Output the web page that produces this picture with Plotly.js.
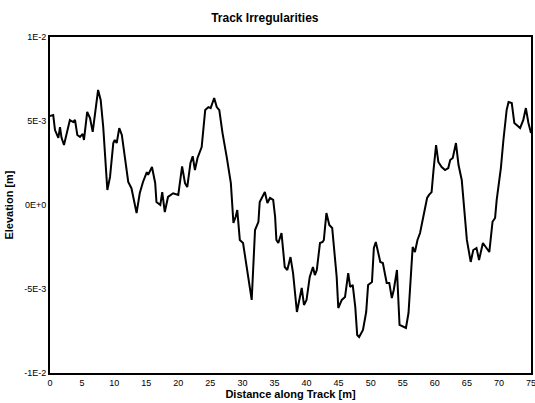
<!DOCTYPE html>
<html>
<head>
<meta charset="utf-8">
<script src="https://cdn.plot.ly/plotly-3.0.1.min.js"></script>
<style>html,body{margin:0;padding:0;background:#fff}#chart{width:535px;height:403px}</style>
</head>
<body>
<div id="chart"></div>
<script>
// Distance along track [m]
const distance = [0,0.5,0.78,1.3,1.56,1.8,2.18,2.6,3.1,3.6,3.9,4.26,4.68,5.1,5.3,5.8,6.24,6.66,7.0,7.5,7.9,8.3,8.94,9.36,9.87,10.1,10.4,10.8,11.2,11.7,12.2,12.7,13.0,13.5,14.0,14.5,15.1,15.3,15.9,16.4,16.6,17.2,17.5,17.9,18.4,19.2,20.0,20.6,21.05,21.4,21.9,22.25,22.6,23.0,23.65,24.2,24.7,25.05,25.6,26.0,26.4,26.9,27.55,28.2,28.6,28.95,29.2,29.6,30.1,30.6,31.0,31.45,31.97,32.5,32.7,33.5,33.9,34.3,34.8,35.1,35.3,35.6,36.1,36.6,37.0,37.5,37.9,38.5,39.25,39.6,40.0,40.5,41.0,41.3,41.6,42.1,42.5,42.7,43.1,43.55,44.0,44.7,44.95,45.5,46.0,46.5,46.8,47.2,47.6,47.9,48.2,48.8,49.3,49.6,50.2,50.5,50.8,51.5,51.9,52.5,52.9,53.3,53.6,54.1,54.5,55.1,55.5,55.9,56.3,56.55,56.9,57.3,57.7,58.2,58.5,58.8,59.1,59.5,59.8,60.2,60.55,61.07,61.6,62.1,62.4,62.8,63.3,63.7,64.2,64.7,65.0,65.6,66.0,66.5,66.9,67.5,68.0,68.5,69.0,69.4,69.65,70.3,70.7,71.2,71.5,72.0,72.4,72.8,73.3,73.8,74.2,74.6,75.0];
// Elevation [1E-3 m]
const elevationMilli = [5.3,5.36,4.46,4.0,4.64,4.0,3.57,4.28,5.06,4.94,5.06,4.17,4.05,4.23,3.87,5.54,5.18,4.35,5.24,6.85,6.25,4.64,0.89,1.67,3.69,3.87,3.69,4.58,4.17,2.86,1.37,1.0,0.42,-0.48,0.71,1.37,1.96,1.79,2.26,1.31,0.18,0.0,0.77,-0.42,0.48,0.7,0.6,2.3,1.3,1.07,2.5,2.9,2.08,2.8,3.45,5.65,5.83,5.77,6.37,5.83,5.65,4.28,2.86,1.3,-1.07,-0.7,-0.3,-2.08,-2.26,-3.57,-4.58,-5.65,-1.49,-1.0,0.18,0.77,0.12,0.42,0.3,-0.7,-2.08,-2.26,-1.67,-3.69,-3.87,-3.1,-4.05,-6.37,-4.94,-5.95,-5.65,-4.28,-3.69,-4.17,-3.87,-2.26,-2.2,-2.08,-0.48,-1.19,-1.37,-4.28,-6.13,-5.65,-5.48,-4.05,-4.88,-4.76,-6.07,-7.74,-7.86,-7.44,-6.37,-4.76,-4.58,-2.56,-2.2,-3.39,-3.45,-4.64,-4.64,-5.54,-5.06,-3.87,-7.14,-7.26,-7.32,-6.43,-3.99,-2.5,-2.8,-2.08,-1.67,-0.7,-0.1,0.42,0.6,0.77,2.08,3.57,2.56,2.26,2.08,2.2,2.68,2.8,3.69,2.38,1.49,-0.7,-2.08,-3.39,-2.68,-2.56,-3.27,-2.26,-2.56,-2.8,-1.0,-0.77,0.3,2.2,3.87,5.65,6.13,6.07,4.88,4.76,4.58,5.06,5.77,4.88,4.28];
const xTicks = [0,5,10,15,20,25,30,35,40,45,50,55,60,65,70,75];
const yTickVals = [-0.01,-0.005,0,0.005,0.01];
const yTickText = ["-1E-2","-5E-3","0E+0","5E-3","1E-2"];

const elevation = elevationMilli.map(v => v / 1000);

const font = "Liberation Sans, Arial, Helvetica, sans-serif";
const trace = {
  x: distance, y: elevation, type: "scatter", mode: "lines",
  line: {color: "#000", width: 2}, hoverinfo: "skip"
};
const layout = {
  width: 535, height: 403,
  margin: {l: 50, r: 4, t: 37, b: 30},
  paper_bgcolor: "#fff", plot_bgcolor: "#fff",
  showlegend: false,
  title: {text: "<b>Track Irregularities</b>", x: 0.495, xanchor: "center", y: 0.957, yanchor: "middle",
          font: {family: font, size: 12, color: "#000"}},
  xaxis: {
    range: [0, 75], tickvals: xTicks, ticks: "", showgrid: false, zeroline: false,
    showline: true, linecolor: "#000", linewidth: 2, mirror: true, ticklabeloverflow: "allow",
    tickfont: {family: font, size: 9, color: "#000"},
    title: {text: "<b>Distance along Track [m]</b>", standoff: 2, font: {family: font, size: 11, color: "#000"}}
  },
  yaxis: {
    range: [-0.01, 0.01], tickvals: yTickVals, ticktext: yTickText, ticks: "", showgrid: false, zeroline: false,
    showline: true, linecolor: "#000", linewidth: 2, mirror: true,
    tickfont: {family: font, size: 9, color: "#000"},
    title: {text: "<b>Elevation [m]</b>", standoff: 8, font: {family: font, size: 11, color: "#000"}}
  }
};
Plotly.newPlot("chart", [trace], layout, {displayModeBar: false, staticPlot: true});
</script>
</body>
</html>
